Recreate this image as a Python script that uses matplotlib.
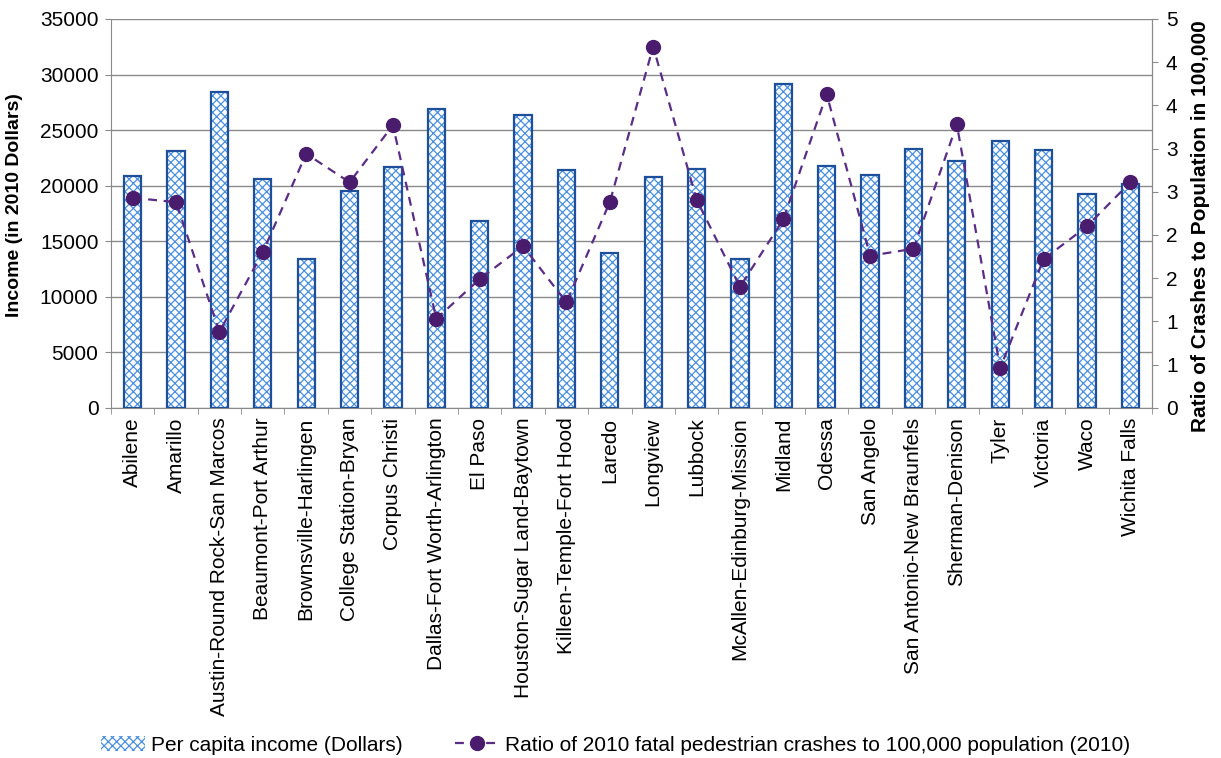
import matplotlib
matplotlib.use('Agg')
import matplotlib.pyplot as plt
from matplotlib.ticker import FixedLocator, FuncFormatter
import numpy as np
import math

plt.rcParams['font.family'] = ['Liberation Sans', 'DejaVu Sans']

areas = ['Abilene', 'Amarillo', 'Austin-Round Rock-San Marcos', 'Beaumont-Port Arthur',
         'Brownsville-Harlingen', 'College Station-Bryan', 'Corpus Christi',
         'Dallas-Fort Worth-Arlington', 'El Paso', 'Houston-Sugar Land-Baytown',
         'Killeen-Temple-Fort Hood', 'Laredo', 'Longview', 'Lubbock',
         'McAllen-Edinburg-Mission', 'Midland', 'Odessa', 'San Angelo',
         'San Antonio-New Braunfels', 'Sherman-Denison', 'Tyler', 'Victoria',
         'Waco', 'Wichita Falls']
income = [20900, 23120, 28460, 20570, 13430, 19550, 21650, 26930, 16790, 26390,
          21380, 13910, 20810, 21470, 13430, 29150, 21770, 20990, 23300, 22190,
          24050, 23210, 19280, 20150]
ratio = [2.43, 2.38, 0.88, 1.80, 2.94, 2.61, 3.27, 1.03, 1.49, 1.87,
         1.22, 2.38, 4.18, 2.41, 1.40, 2.18, 3.63, 1.76, 1.84, 3.28,
         0.46, 1.72, 2.10, 2.61]

bar_label = 'Per capita income (Dollars)'
line_label = 'Ratio of 2010 fatal pedestrian crashes to 100,000 population (2010)'

fig = plt.figure(figsize=(12.21, 7.58), dpi=100)
ax = fig.add_axes([0.0909, 0.462, 0.8526, 0.513])
ax2 = ax.twinx()

x = np.arange(len(areas))
grid_c = '#8a8a8a'

# bars: hatched fill, then darker outline on top
plt.rcParams['hatch.linewidth'] = 0.9
bars = ax.bar(x, income, width=0.4, color='white', edgecolor='#4a8fe0',
              hatch='xxxx', linewidth=0, zorder=2, label=bar_label)
ax.bar(x, income, width=0.4, color='none', edgecolor='#1d4f9a',
       linewidth=1.6, zorder=3)

line, = ax2.plot(x, ratio, linestyle=(0, (4, 3)), color='#5a2d86', linewidth=1.6,
                 marker='o', markersize=10, markerfacecolor='#4a1c6e',
                 markeredgecolor='#4a1c6e', label=line_label, zorder=4)

ax.set_xlim(-0.5, len(areas) - 0.5)
ax.set_ylim(0, 35000)
ax.set_yticks(np.arange(0, 35001, 5000))
ax.yaxis.grid(True, color=grid_c, linewidth=1.0)
ax.set_axisbelow(True)

ax2.set_ylim(0, 4.5)
ax2.set_yticks(np.arange(0, 4.51, 0.5))
ax2.yaxis.set_major_formatter(FuncFormatter(lambda v, p: str(int(math.floor(v + 0.5 + 1e-9)))))

ax.set_xticks(x)
ax.set_xticklabels(areas, rotation=90, fontsize=15)
ax.tick_params(axis='x', which='major', length=0, pad=7)
ax.xaxis.set_minor_locator(FixedLocator(np.arange(-0.5, len(areas), 1.0)))
ax.tick_params(axis='x', which='minor', length=4, color=grid_c)

ax.tick_params(axis='y', labelsize=15, length=4, color=grid_c, pad=5)
ax2.tick_params(axis='y', labelsize=15, length=4, color=grid_c, pad=6)

for a in (ax, ax2):
    a.spines['top'].set_visible(False)
    for s in ('left', 'right', 'bottom'):
        a.spines[s].set_color(grid_c)
ax2.spines['left'].set_visible(False)
ax2.spines['bottom'].set_visible(False)

fig.text(0.012, 0.729, 'Income (in 2010 Dollars)', rotation=90, fontsize=14,
         fontweight='bold', ha='center', va='center')
fig.text(0.983, 0.702, 'Ratio of Crashes to Population in 100,000', rotation=90,
         fontsize=15, fontweight='bold', ha='center', va='center')

fig.legend([bars, line], [bar_label, line_label], loc='center',
           bbox_to_anchor=(0.504, 0.017), ncol=2, frameon=False, fontsize=15,
           handlelength=2.1, handletextpad=0.3, columnspacing=2.5)

fig.savefig('out.png', dpi=100)
